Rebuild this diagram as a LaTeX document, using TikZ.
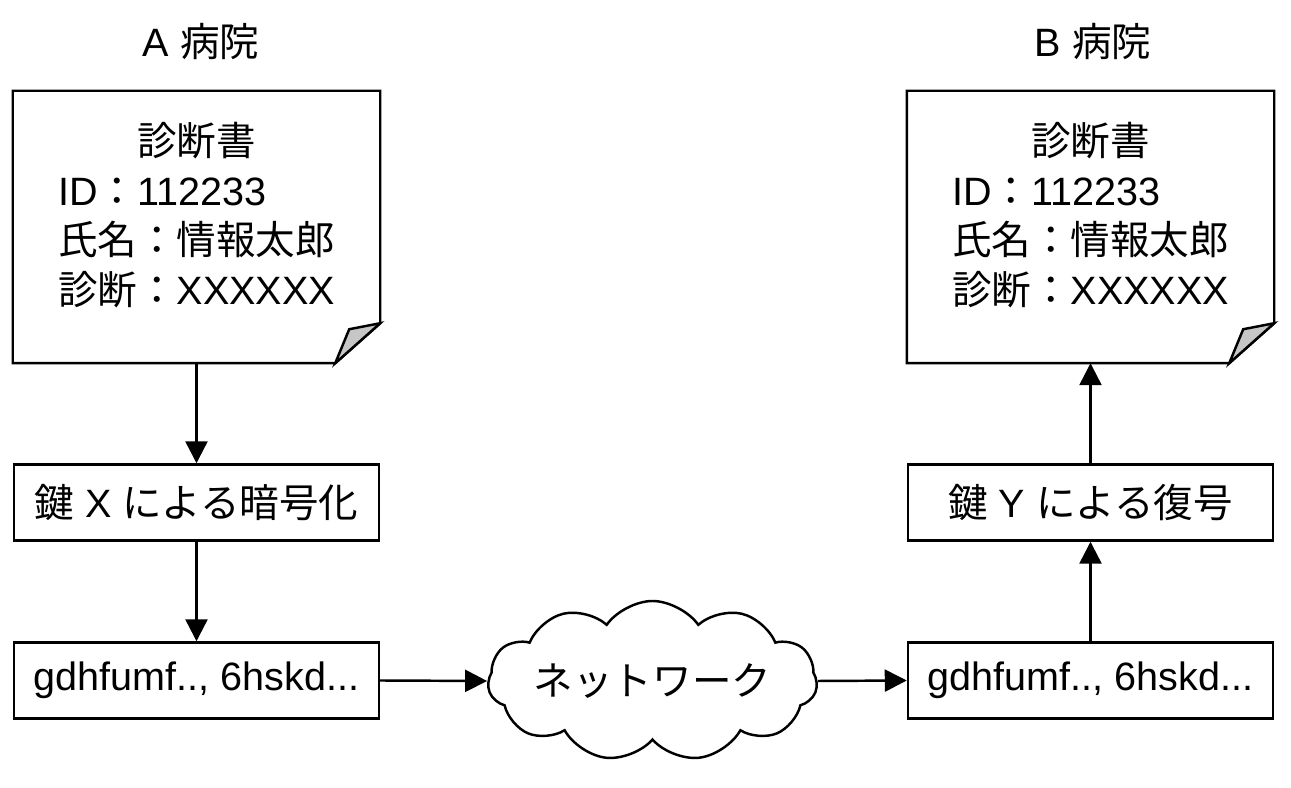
\documentclass[tikz,border=0pt]{standalone}
\usepackage{fontspec}
\setmainfont{Liberation Sans}
\newfontfamily\jp{Noto Sans CJK JP}
\usetikzlibrary{calc, shapes, shapes.symbols, arrows.meta, positioning}

\begin{document}
\begin{tikzpicture}[
	line width=1.4pt,
	>={Triangle[length=4.4mm, width=4.4mm]},
	docframe/.style={minimum width=7.3cm, minimum height=5.4cm, inner sep=0pt},
	stepbox/.style={draw, minimum width=7.3cm, minimum height=1.52cm, inner sep=0pt},
	netcloud/.style={draw, cloud, cloud puffs=11, cloud puff arc=110, cloud ignores aspect, minimum width=6.3cm, minimum height=3.2cm, inner sep=0pt}
]
	\fontsize{22.5}{28.4}\selectfont
	\useasboundingbox (0,0) rectangle (25.82,15.76);

	% titles
	\node (titleA) at (4.02,14.92) {A {\jp 病院}};
	\node (titleB) at (21.86,14.92) {B {\jp 病院}};

	% documents
	\foreach \h/\x in {A/3.93, B/21.81} {
		\node[docframe] (doc\h) at (\x,11.22) {};
		\node (text\h) at ($(doc\h)+(0,.14)$) {\begin{tabular}{@{}l@{}}\multicolumn{1}{c}{\jp 診断書}\\ ID{\jp ：}112233\\ {\jp 氏名：情報太郎}\\ {\jp 診断：}XXXXXX\end{tabular}};
		\draw (doc\h.north west) -- (doc\h.north east) -- ($(doc\h.south east)+(0,.8)$) -- ($(doc\h.south east)+(-.9,0)$) -- (doc\h.south west) -- cycle;
		\filldraw[fill=gray!45] ($(doc\h.south east)+(0,.8)$) -- ($(doc\h.south east)+(-.62,.68)$) -- ($(doc\h.south east)+(-.9,0)$) -- cycle;
	}

	% steps
	\node[stepbox] (encA) at (3.93,5.71) {{\jp 鍵} X {\jp による暗号化}};
	\node[stepbox] (cipherA) at (3.93,2.15) {gdhfumf.., 6hskd...};
	\node[stepbox] (decB) at (21.81,5.71) {{\jp 鍵} Y {\jp による復号}};
	\node[stepbox] (cipherB) at (21.81,2.15) {gdhfumf.., 6hskd...};
	\node[netcloud] (net) at (13.05,2.14) {\jp ネットワーク};

	\draw[->] (docA.south) -- (encA);
	\draw[->] (encA) -- (cipherA);
	\draw[->] (cipherA.east) -- (net.west);
	\draw[->] (net.east) -- (cipherB.west);
	\draw[->] (cipherB) -- (decB);
	\draw[->] (decB) -- (docB.south);
\end{tikzpicture}
\end{document}
